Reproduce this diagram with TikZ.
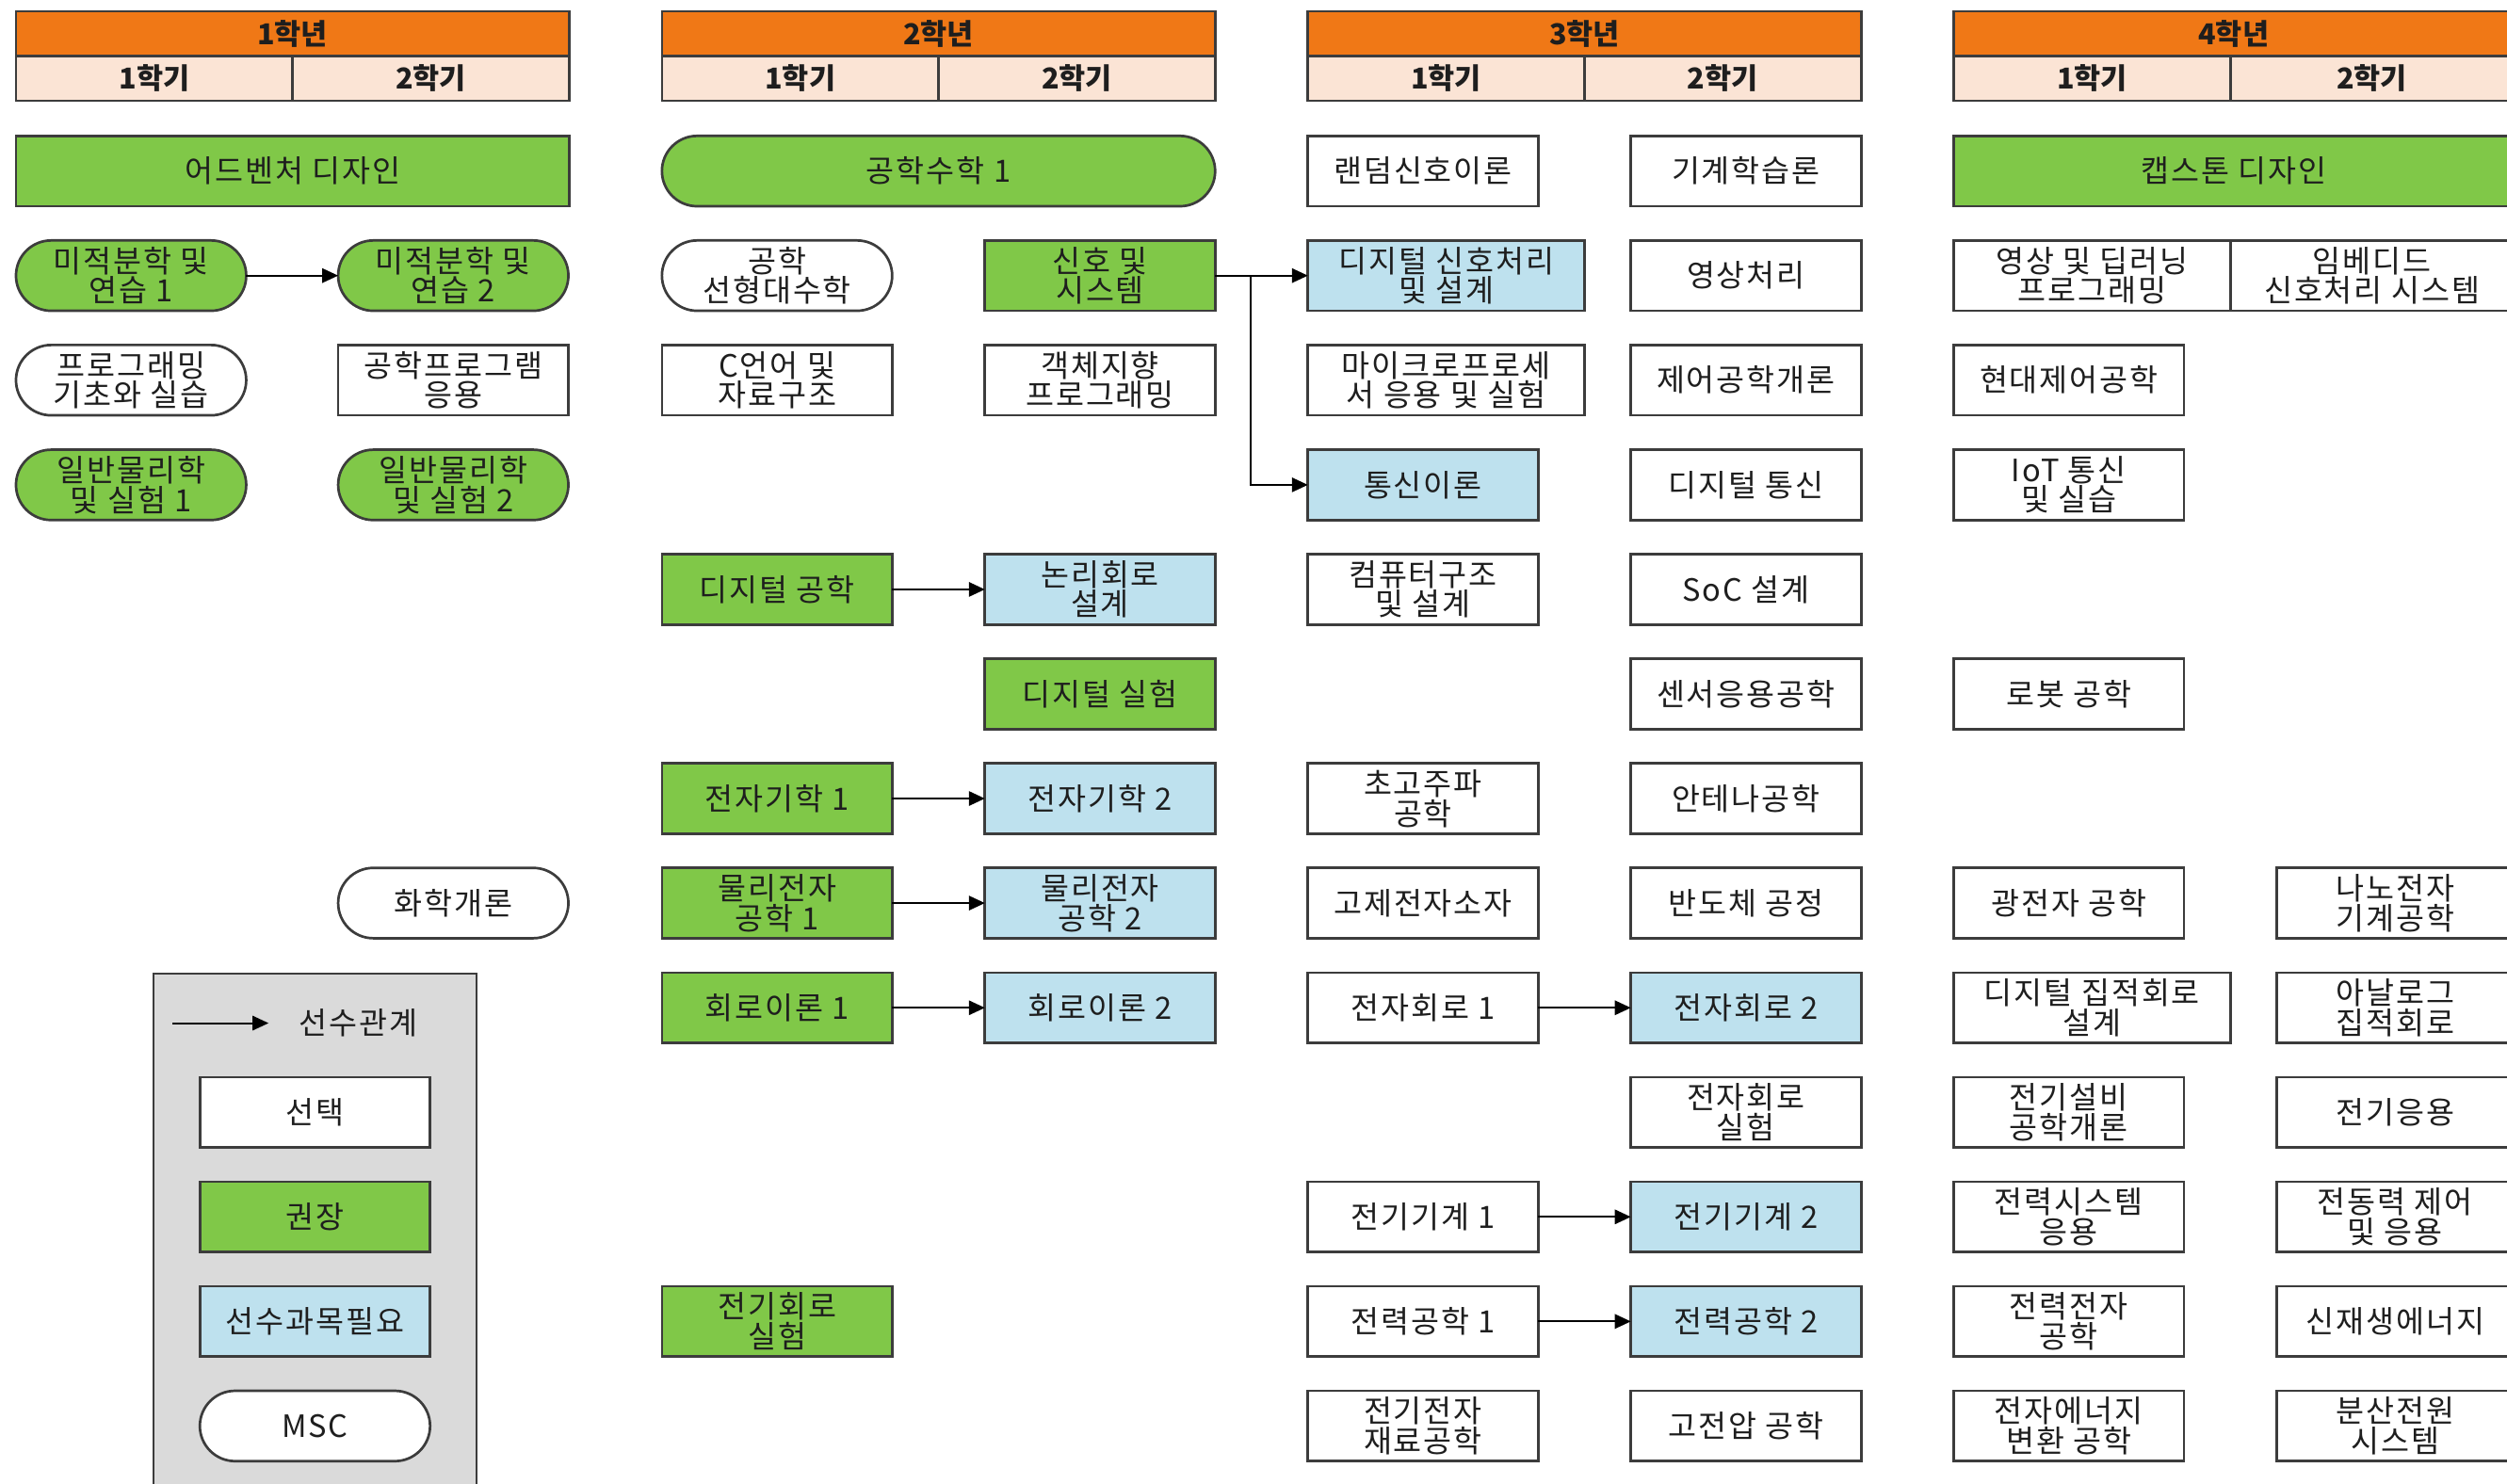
\documentclass[tikz,border=0pt]{standalone}
\usepackage{fontspec}
\usetikzlibrary{arrows.meta}
\newfontfamily\kr[LetterSpace=6]{Noto Sans CJK KR}
\newfontfamily\krh{Noto Sans CJK KR}
\newcommand\krtext{\kr\fontsize{9.6}{9.3}\selectfont}
\definecolor{orng}{RGB}{240,120,22}
\definecolor{peach}{RGB}{251,228,213}
\definecolor{grn}{RGB}{128,200,72}
\definecolor{blu}{RGB}{190,225,238}
\definecolor{lgray}{RGB}{218,218,218}
\definecolor{bordc}{RGB}{60,60,60}
\definecolor{txtc}{RGB}{30,30,30}
\tikzset{
  box/.style={draw=bordc, line width=0.8pt, minimum height=22pt, minimum width=72pt,
    inner sep=0pt, outer sep=0pt, align=center, text=txtc, font=\krtext},
  wbox/.style={box, fill=white},
  gbox/.style={box, fill=grn},
  bbox/.style={box, fill=blu},
  pill/.style={rounded corners=11pt},
  wide/.style={minimum width=86.5pt},
  lastc/.style={minimum width=74pt},
  yearhd/.style={draw=bordc, line width=0.8pt, fill=orng, minimum height=14pt,
    minimum width=173pt, inner sep=0pt, outer sep=0pt, text=txtc,
    font=\krh\bfseries\fontsize{9}{9}\selectfont},
  semhd/.style={yearhd, fill=peach, minimum width=86.5pt},
  arr/.style={-{Triangle[length=5pt,width=4.5pt]}, line width=0.6pt, draw=black},
}
\begin{document}
\lineskiplimit=-6pt
\begin{tikzpicture}[x=0.5pt,y=-0.5pt]
\useasboundingbox (0,0) rectangle (1568,928);
% ---------- headers ----------
\node[yearhd] (y1) at (183,21) {1학년};
\node[semhd] (y1s1) at (96.5,49) {1학기};
\node[semhd] (y1s2) at (269.5,49) {2학기};
\node[yearhd] (y2) at (587,21) {2학년};
\node[semhd] (y2s1) at (500.5,49) {1학기};
\node[semhd] (y2s2) at (673.5,49) {2학기};
\node[yearhd] (y3) at (991,21) {3학년};
\node[semhd] (y3s1) at (904.5,49) {1학기};
\node[semhd] (y3s2) at (1077.5,49) {2학기};
\node[yearhd, minimum width=175pt] (y4) at (1397,21) {4학년};
\node[semhd] (y4s1) at (1308.5,49) {1학기};
\node[semhd, minimum width=88.5pt] (y4s2) at (1483.5,49) {2학기};
% ---------- row 0 ----------
\node[gbox, minimum width=173pt] (adv) at (183,107) {어드벤처 디자인};
\node[gbox, pill, minimum width=173pt] (emath) at (587,107) {공학수학 1};
\node[wbox] (rand) at (890,107) {랜덤신호이론};
\node[wbox] (ml) at (1092,107) {기계학습론};
\node[gbox, minimum width=175pt] (cap) at (1397,107) {캡스톤 디자인};
% ---------- row 1 ----------
\node[gbox, pill] (m1) at (82,172.4) {미적분학 및\\연습 1};
\node[gbox, pill] (m2) at (283.5,172.4) {미적분학 및\\연습 2};
\node[wbox, pill] (linalg) at (486,172.4) {공학\\선형대수학};
\node[gbox] (sig) at (688,172.4) {신호 및\\시스템};
\node[bbox, wide] (dsp) at (904.5,172.4) {디지털 신호처리\\및 설계};
\node[wbox] (img) at (1092,172.4) {영상처리};
\node[wbox, wide] (dl) at (1308.5,172.4) {영상 및 딥러닝\\프로그래밍};
\node[wbox, minimum width=88.5pt] (emb) at (1483.5,172.4) {임베디드\\신호처리 시스템};
% ---------- row 2 ----------
\node[wbox, pill] (prog) at (82,237.8) {프로그래밍\\기초와 실습};
\node[wbox] (eprog) at (283.5,237.8) {공학프로그램\\응용};
\node[wbox] (clang) at (486,237.8) {C언어 및\\자료구조};
\node[wbox] (oop) at (688,237.8) {객체지향\\프로그래밍};
\node[wbox, wide] (micro) at (904.5,237.8) {마이크로프로세\\서 응용 및 실험};
\node[wbox] (ctrl) at (1092,237.8) {제어공학개론};
\node[wbox] (mctrl) at (1294,237.8) {현대제어공학};
% ---------- row 3 ----------
\node[gbox, pill] (phy1) at (82,303.3) {일반물리학\\및 실험 1};
\node[gbox, pill] (phy2) at (283.5,303.3) {일반물리학\\및 실험 2};
\node[bbox] (comm) at (890,303.3) {통신이론};
\node[wbox] (dcomm) at (1092,303.3) {디지털 통신};
\node[wbox] (iot) at (1294,303.3) {IoT 통신\\및 실습};
% ---------- row 4 ----------
\node[gbox] (dig) at (486,368.7) {디지털 공학};
\node[bbox] (logic) at (688,368.7) {논리회로\\설계};
\node[wbox] (arch) at (890,368.7) {컴퓨터구조\\및 설계};
\node[wbox] (soc) at (1092,368.7) {SoC 설계};
% ---------- row 5 ----------
\node[gbox] (diglab) at (688,434.1) {디지털 실험};
\node[wbox] (sensor) at (1092,434.1) {센서응용공학};
\node[wbox] (robot) at (1294,434.1) {로봇 공학};
% ---------- row 6 ----------
\node[gbox] (em1) at (486,499.5) {전자기학 1};
\node[bbox] (em2) at (688,499.5) {전자기학 2};
\node[wbox] (rf) at (890,499.5) {초고주파\\공학};
\node[wbox] (ant) at (1092,499.5) {안테나공학};
% ---------- row 7 ----------
\node[wbox, pill] (chem) at (283.5,564.9) {화학개론};
\node[gbox] (pe1) at (486,564.9) {물리전자\\공학 1};
\node[bbox] (pe2) at (688,564.9) {물리전자\\공학 2};
\node[wbox] (solid) at (890,564.9) {고제전자소자};
\node[wbox] (semi) at (1092,564.9) {반도체 공정};
\node[wbox] (opto) at (1294,564.9) {광전자 공학};
\node[wbox, lastc] (nano) at (1498,564.9) {나노전자\\기계공학};
% ---------- row 8 ----------
\node[gbox] (ct1) at (486,630.4) {회로이론 1};
\node[bbox] (ct2) at (688,630.4) {회로이론 2};
\node[wbox] (ec1) at (890,630.4) {전자회로 1};
\node[bbox] (ec2) at (1092,630.4) {전자회로 2};
\node[wbox, wide] (dic) at (1308.5,630.4) {디지털 집적회로\\설계};
\node[wbox, lastc] (aic) at (1498,630.4) {아날로그\\집적회로};
% ---------- row 9 ----------
\node[wbox] (eclab) at (1092,695.8) {전자회로\\실험};
\node[wbox] (equip) at (1294,695.8) {전기설비\\공학개론};
\node[wbox, lastc] (eapp) at (1498,695.8) {전기응용};
% ---------- row 10 ----------
\node[wbox] (emach1) at (890,761.2) {전기기계 1};
\node[bbox] (emach2) at (1092,761.2) {전기기계 2};
\node[wbox] (psys) at (1294,761.2) {전력시스템\\응용};
\node[wbox, lastc] (motor) at (1498,761.2) {전동력 제어\\및 응용};
% ---------- row 11 ----------
\node[gbox] (eclb) at (486,826.6) {전기회로\\실험};
\node[wbox] (pow1) at (890,826.6) {전력공학 1};
\node[bbox] (pow2) at (1092,826.6) {전력공학 2};
\node[wbox] (pel) at (1294,826.6) {전력전자\\공학};
\node[wbox, lastc] (renew) at (1498,826.6) {신재생에너지};
% ---------- row 12 ----------
\node[wbox] (mat) at (890,892) {전기전자\\재료공학};
\node[wbox] (hv) at (1092,892) {고전압 공학};
\node[wbox] (econv) at (1294,892) {전자에너지\\변환 공학};
\node[wbox, lastc] (dist) at (1498,892) {분산전원\\시스템};
% ---------- legend ----------
\draw[fill=lgray, draw=bordc, line width=0.8pt] (96,609) rectangle (298,945);
\coordinate (la1) at (108,640);
\coordinate (la2) at (168,640);
\node[text=txtc, font=\krtext] (lab) at (224,640) {선수관계};
\node[wbox] (lsel) at (197,695.8) {선택};
\node[gbox] (lrec) at (197,761.2) {권장};
\node[bbox] (lpre) at (197,826.6) {선수과목필요};
\node[wbox, pill] (lmsc) at (197,892) {MSC};
% ---------- connectors ----------
\draw[arr] (m1) -- (m2);
\draw[arr] (sig.east) -- (dsp.west);
\coordinate (br) at (782,172.4);
\draw[arr] (br) |- (comm.west);
\draw[arr] (dig) -- (logic);
\draw[arr] (em1) -- (em2);
\draw[arr] (pe1) -- (pe2);
\draw[arr] (ct1) -- (ct2);
\draw[arr] (ec1) -- (ec2);
\draw[arr] (emach1) -- (emach2);
\draw[arr] (pow1) -- (pow2);
\draw[arr] (la1) -- (la2);
\end{tikzpicture}
\end{document}
